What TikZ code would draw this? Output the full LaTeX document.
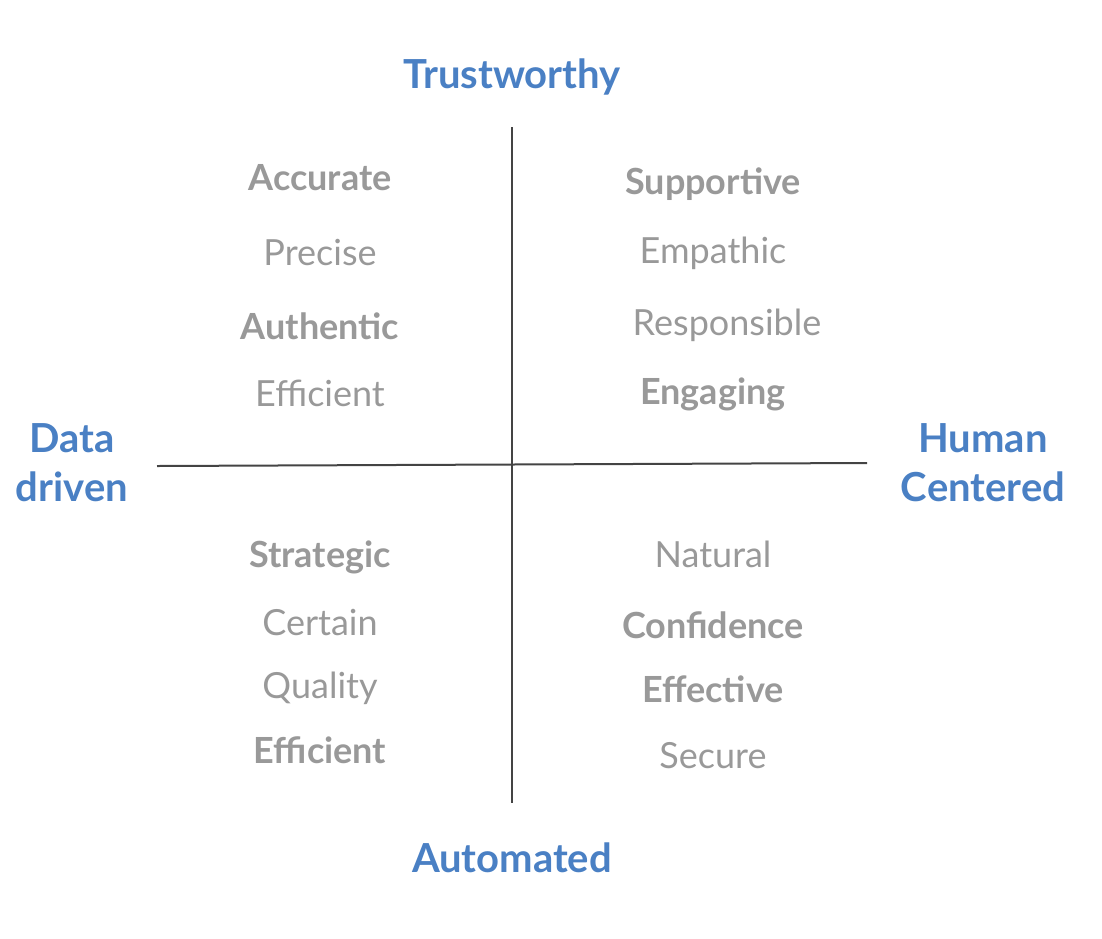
\documentclass[tikz,border=0pt]{standalone}
\usepackage{fontspec}
\setmainfont{Lato}
\usetikzlibrary{positioning}
\definecolor{axisblue}{RGB}{74,128,196}
\definecolor{traitgray}{RGB}{153,153,153}
\definecolor{linegray}{RGB}{68,68,68}
\tikzset{
  axislabel/.style={
    text = axisblue,
    font = \fontsize{40}{49}\selectfont\bfseries,
    align = center,
    inner sep = 0pt
  },
  trait/.style={
    text = traitgray,
    font = \fontsize{36}{40}\selectfont,
    anchor = base,
    inner sep = 0pt
  },
  traitbold/.style={
    trait,
    font = \fontsize{36}{40}\selectfont\bfseries
  },
  axisline/.style={
    draw = linegray,
    line width = 2pt
  }
}
\begin{document}
\begin{tikzpicture}[x=1pt,y=-1pt]
    \useasboundingbox (0,0) rectangle (1102,938);
    % axes
    \coordinate (top) at (512,127);
    \coordinate (bottom) at (512,803);
    \coordinate (left) at (157,466);
    \coordinate (right) at (867,463);
    \draw[axisline] (top) -- (bottom);
    \draw[axisline] (left) -- (right);
    % axis labels
    \node[axislabel, anchor=base] (trust) at (512,88) {Trustworthy};
    \node[axislabel, anchor=base] (auto) at (512,872) {Automated};
    \node[axislabel] (data) at (72,463) {Data\\driven};
    \node[axislabel] (human) at (983,463) {Human\\Centered};
    % upper left
    \node[traitbold] (accurate) at (320,190) {Accurate};
    \node[trait] (precise) at (320,265) {Precise};
    \node[traitbold] (authentic) at (320,339) {Authentic};
    \node[trait] (efficient1) at (320,406) {Efficient};
    % upper right
    \node[traitbold] (supportive) at (713,194) {Supportive};
    \node[trait] (empathic) at (713,263) {Empathic};
    \node[trait] (responsible) at (727,335) {Responsible};
    \node[traitbold] (engaging) at (713,404) {Engaging};
    % lower left
    \node[traitbold] (strategic) at (320,567) {Strategic};
    \node[trait] (certain) at (320,635) {Certain};
    \node[trait] (quality) at (320,698) {Quality};
    \node[traitbold] (efficient2) at (320,763) {Efficient};
    % lower right
    \node[trait] (natural) at (713,567) {Natural};
    \node[traitbold] (confidence) at (713,638) {Confidence};
    \node[traitbold] (effective) at (713,702) {Effective};
    \node[trait] (secure) at (713,768) {Secure};
\end{tikzpicture}
\end{document}
